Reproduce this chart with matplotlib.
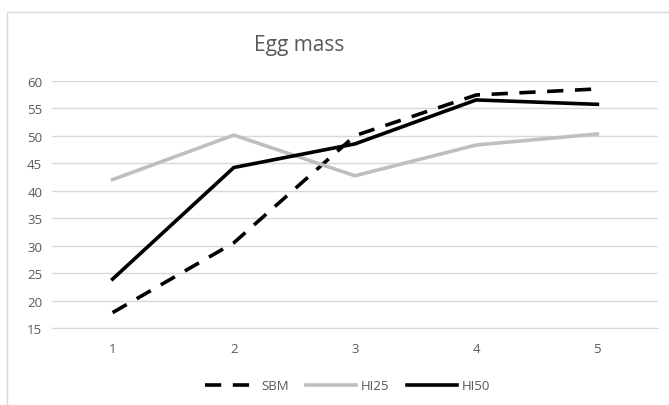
import matplotlib
matplotlib.use("Agg")
import matplotlib.pyplot as plt
from matplotlib.patches import Rectangle

x = [1, 2, 3, 4, 5]
sbm = [17.8, 30.5, 50.0, 57.4, 58.5]
hi25 = [42.0, 50.1, 42.7, 48.3, 50.3]
hi50 = [23.9, 44.2, 48.5, 56.5, 55.7]
yticks = [15, 20, 25, 30, 35, 40, 45, 50, 55, 60]

plt.rcParams['font.family'] = ['Open Sans', 'DejaVu Sans']
W, H = 669, 406
fig = plt.figure(figsize=(W / 100, H / 100), dpi=100)
fig.patches.append(Rectangle((7 / W, -0.1), 1.2, 1.1 - 13 / H, transform=fig.transFigure,
                             fill=False, edgecolor='#d9d9d9', linewidth=1.0))

ax = fig.add_axes([52 / W, 1 - 329 / H, (658 - 52) / W, (329 - 81.7) / H])
ax.plot(x, sbm, color='black', lw=2.6, dashes=(4.5, 3.2), label='SBM')
ax.plot(x, hi25, color='#bfbfbf', lw=2.6, label='HI25')
ax.plot(x, hi50, color='black', lw=2.6, label='HI50')

ax.set_xlim(0.5, 5.5)
ax.set_ylim(15, 60)
ax.set_yticks(yticks)
ax.set_xticks(x)
ax.grid(axis='y', color='#d9d9d9', lw=1.0)
ax.set_axisbelow(True)
for s in ['top', 'right', 'left']:
    ax.spines[s].set_visible(False)
ax.spines['bottom'].set_color('#d9d9d9')
ax.tick_params(axis='both', length=0, labelsize=9.5, labelcolor='#595959')
ax.tick_params(axis='x', pad=10)
ax.tick_params(axis='y', pad=7)

fig.text(299 / W, 1 - 45 / H, 'Egg mass', ha='center', va='center', fontsize=15, color='#595959')

leg = fig.legend(loc='center', bbox_to_anchor=(348 / W, 1 - 387 / H), ncol=3, frameon=False,
                 fontsize=9.5, handlelength=3.8, columnspacing=1.3, handletextpad=0.4)
for t in leg.get_texts():
    t.set_color('#595959')

fig.savefig('out.png', dpi=100, facecolor='white')
